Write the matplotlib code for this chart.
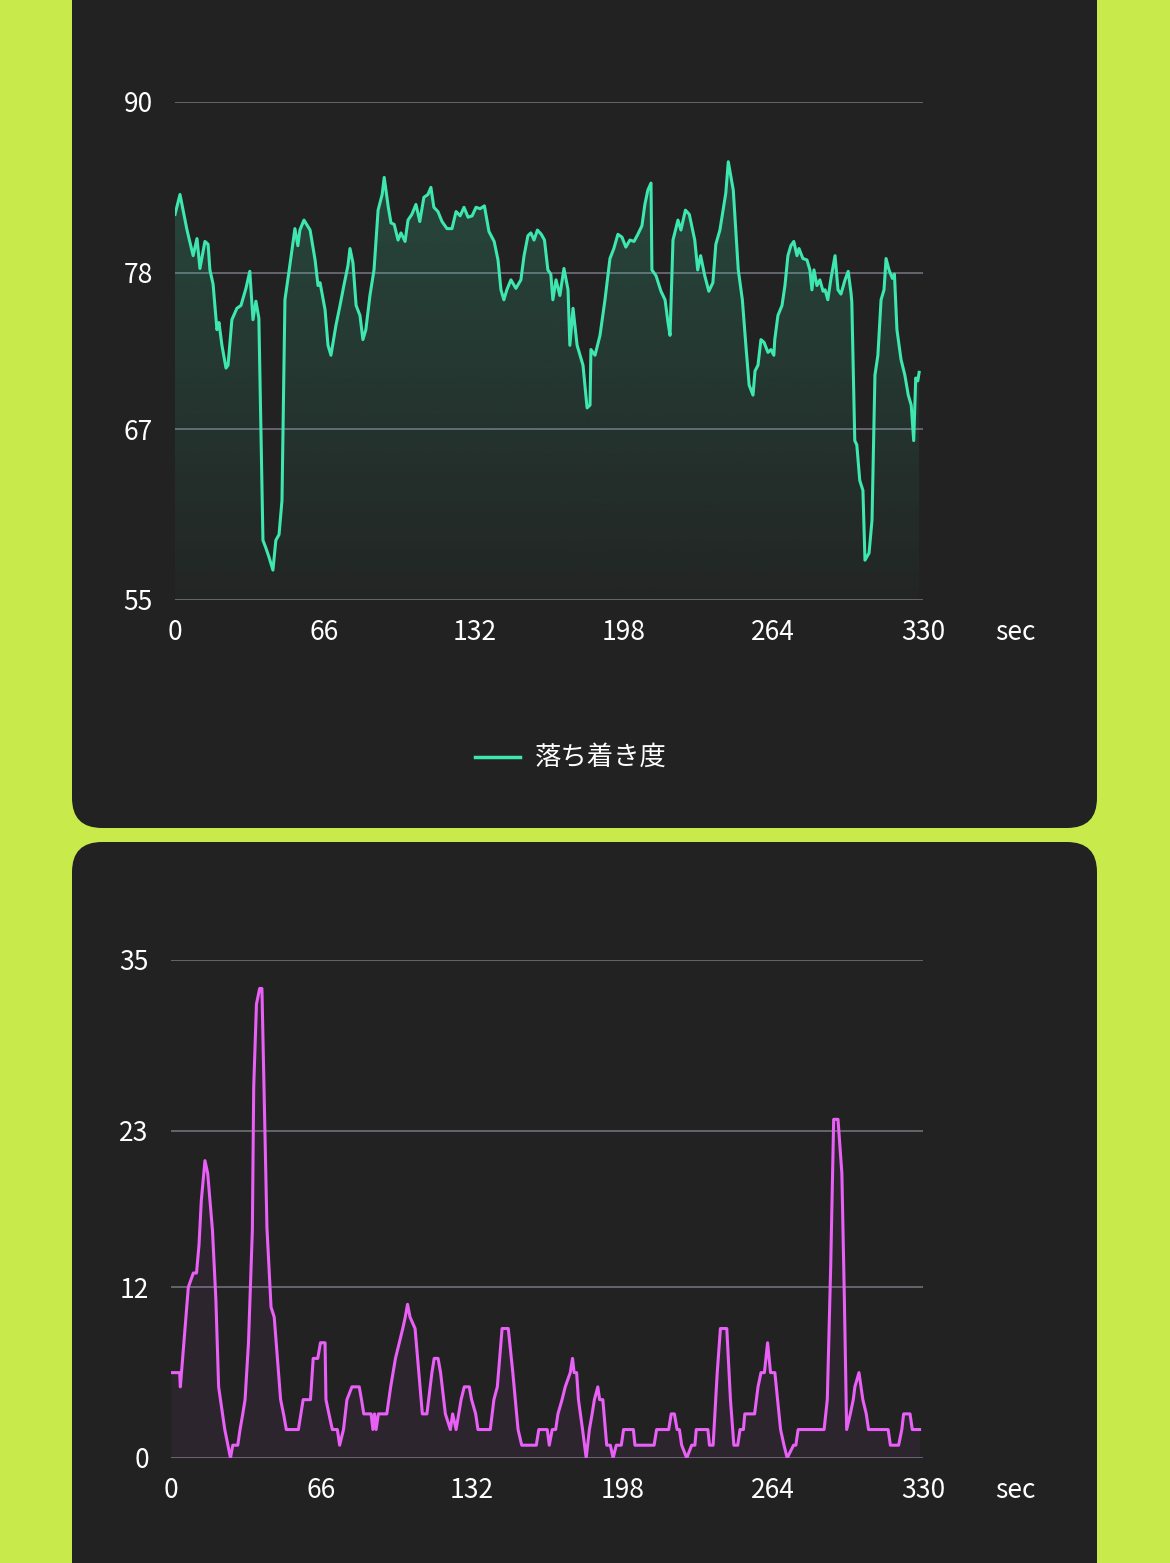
import matplotlib
matplotlib.use("Agg")
import matplotlib.pyplot as plt
import numpy as np
from matplotlib.patches import FancyBboxPatch, Polygon

plt.rcParams['font.family'] = ['Noto Sans CJK JP', 'DejaVu Sans']

calm_t = [0,2.2,5.3,8.0,9.7,11.0,13.2,14.6,15.4,16.8,18.5,19.4,20.7,22.5,23.4,25.1,27.3,29.1,31.3,33.0,34.4,35.7,37.0,38.8,40.0,41.5,43.2,44.5,45.9,47.2,48.5,50.3,52.9,54.2,55.1,56.9,59.6,61.8,63.1,64.0,66.2,67.5,68.8,71.0,72.8,74.5,76.3,77.2,78.5,79.9,81.6,82.9,84.2,86.0,87.8,89.6,91.4,92.3,94.1,95.3,96.7,98.4,99.7,101.5,102.8,104.5,106.3,108.0,109.8,111.6,112.9,114.2,116.0,117.8,120.0,122.2,124.0,125.8,127.5,129.3,131.1,132.8,134.6,136.5,138.5,140.8,142.5,143.8,145.1,146.4,148.2,150.4,152.6,154.0,155.7,157.0,158.4,159.9,161.6,163.0,164.5,165.8,166.7,168.1,169.8,171.6,173.4,174.2,175.6,177.4,180.0,181.8,183.1,183.5,185.3,187.5,189.7,191.9,193.6,195.4,197.2,198.9,200.7,202.5,204.2,206.0,207.3,208.6,210.0,210.4,212.2,214.4,216.2,217.5,218.4,219.7,221.9,223.2,225.2,226.9,229.3,230.6,231.9,233.7,235.5,237.3,238.6,240.4,243.0,244.1,246.3,248.5,250.3,252.0,253.3,255.0,255.9,257.2,258.5,259.9,261.6,262.9,264.2,264.6,266.0,267.8,269.1,270.4,271.7,273.0,274.4,275.3,277.0,278.8,280.1,281.0,281.9,283.2,284.5,285.9,286.8,288.0,289.4,291.2,292.5,293.8,295.6,297.0,298.3,298.6,299.9,300.8,302.1,303.5,304.4,306.2,307.5,308.8,310.1,311.5,312.8,313.7,315.0,316.5,317.4,318.5,320.3,322.0,323.5,324.8,325.9,326.8,327.7,328.3]
calm_v = [82.1,83.5,81.0,79.2,80.4,78.3,80.2,80.0,78.2,77.2,74.0,74.5,72.9,71.3,71.5,74.7,75.5,75.7,76.9,78.1,74.7,76.0,74.8,59.2,58.7,58.0,57.1,59.2,59.6,62.0,76.1,78.1,81.1,79.9,81.0,81.7,81.0,78.9,77.1,77.3,75.4,72.9,72.2,74.3,75.7,77.1,78.5,79.7,78.7,75.7,75.0,73.3,74.0,76.4,78.2,82.4,83.5,84.7,82.6,81.5,81.4,80.3,80.8,80.2,81.7,82.1,82.8,81.6,83.3,83.5,84.0,82.6,82.3,81.6,81.1,81.1,82.3,82.0,82.6,81.9,82.0,82.6,82.5,82.7,80.9,80.2,78.9,76.8,76.1,76.8,77.5,76.9,77.5,79.2,80.6,80.8,80.3,81.0,80.7,80.3,78.2,77.9,76.1,77.5,76.4,78.3,76.8,72.9,75.5,72.9,71.5,68.5,68.7,72.6,72.2,73.6,76.1,79.0,79.7,80.7,80.5,79.8,80.3,80.2,80.7,81.3,82.8,83.8,84.3,78.2,77.8,76.7,76.1,74.5,73.6,80.3,81.7,81.0,82.4,82.1,80.3,78.2,79.2,77.8,76.7,77.3,80.0,81.0,83.6,85.8,83.8,78.2,76.1,72.6,70.1,69.4,71.1,71.5,73.3,73.1,72.4,72.6,72.2,73.3,75.0,75.7,77.1,79.2,79.9,80.2,79.2,79.7,79.0,78.9,78.2,76.8,78.2,77.1,77.5,76.7,76.8,76.1,77.6,79.2,76.8,76.5,77.5,78.1,76.5,75.9,66.2,65.9,63.4,62.7,57.8,58.3,60.6,70.8,72.2,76.1,76.8,79.0,78.2,77.6,77.9,74.0,71.9,70.8,69.4,68.7,66.2,70.6,70.4,71.0]

mot_t = [0,3.8,4.1,7.6,9.8,11.2,12.3,13.3,14.9,16.1,18.2,19.7,20.9,23.6,26.1,27.1,29.3,30.3,31.5,32.5,34.0,35.7,36.3,37.5,38.9,39.9,40.9,42.1,43.9,45.3,48.1,49.5,50.6,55.9,57.0,58.0,61.2,62.4,64.4,65.6,67.6,68.0,69.3,70.8,73.0,74.0,75.7,77.2,79.4,82.6,83.6,84.6,87.8,88.6,89.3,90.0,91.0,94.7,96.4,98.5,100.2,101.7,102.8,103.8,104.9,107.1,110.3,112.3,114.5,115.5,117.2,118.3,120.4,122.6,123.6,125.1,127.3,128.7,130.9,131.9,133.7,134.7,140.1,141.7,143.2,145.3,148.0,150.0,152.3,153.9,160.3,161.4,165.1,166.0,167.3,168.8,169.8,171.6,173.0,175.2,176.2,176.9,178.0,178.8,180.6,182.2,183.6,184.8,185.8,187.3,188.1,189.5,191.2,192.8,194.0,195.4,197.6,198.6,202.9,203.6,212.0,213.1,218.4,219.5,220.9,222.1,223.1,224.1,226.3,228.5,229.9,230.5,235.6,236.3,237.9,239.7,241.1,243.9,245.5,247.0,248.7,249.7,251.2,251.8,256.1,257.6,258.9,260.4,261.8,263.1,265.0,267.5,269.0,270.4,273.2,274.2,275.2,286.6,288.0,289.5,290.8,292.7,294.4,295.5,296.5,298.1,299.4,300.1,301.9,303.6,305.1,306.1,314.7,315.7,319.3,320.7,321.5,324.3,325.3,328.5]
mot_v = [6,6,5,12,13,13,15,18.1,20.9,20,16,11.1,5,2,0,0.9,0.9,2,3.1,4.1,8.1,16,26.1,31.9,33,33,25.3,16.2,10.6,9.9,4.1,3,2,2,3.1,4.1,4.1,7,7,8.1,8.1,4.1,3.1,2,2,0.9,2,4.1,5,5,4.1,3.1,3.1,2,3.1,2,3.1,3.1,5,7,8.1,9.1,9.9,10.8,9.9,9.1,3.1,3.1,6,7,7,6,3.1,2,3.1,2,4.1,5,5,4.1,3.1,2,2,4.1,5,9.1,9.1,6,2,0.9,0.9,2,2,0.9,2,2,3.1,4.1,5,6,7,6,6,4.1,2,0,2,3.1,4.1,5,4.1,4.1,0.9,0.9,0,0.9,0.9,2,2,0.9,0.9,2,2,3.1,3.1,2,2,0.9,0,0.9,0.9,2,2,0.9,0.9,6,9.1,9.1,4.1,0.9,0.9,2,2,3.1,3.1,5,6,6,8.1,6,6,2,0.9,0,0.9,0.9,2,2,4.1,13.5,23.8,23.8,20,11.1,2,3.1,4.1,5,6,4.1,3.1,2,2,0.9,0.9,2,3.1,3.1,2,2]

calm_ticks = [55, 67, 78, 90]
mot_ticks = [0, 12, 23, 35]
x_ticks = [0, 66, 132, 198, 264, 330]
legend_label = "落ち着き度"

W, H = 1170, 1563
fig = plt.figure(figsize=(W/100, H/100), dpi=100)
fig.patch.set_facecolor('#c9ea4b')
PANEL = '#222222'
for (x0, y0, x1, y1) in [(72, -40, 1097, 828), (72, 842, 1097, 1620)]:
    p = FancyBboxPatch((x0/100, (H-y1)/100), (x1-x0)/100, (y1-y0)/100,
                       boxstyle="round,pad=0,rounding_size=0.3",
                       transform=fig.dpi_scale_trans, facecolor=PANEL, edgecolor='none', zorder=0)
    fig.add_artist(p)

def style(ax, yt, ylim):
    ax.set_facecolor('none')
    ax.set_xlim(0, 330)
    ax.set_ylim(*ylim)
    ax.set_yticks(yt)
    ax.set_xticks(x_ticks)
    for s in ax.spines.values():
        s.set_visible(False)
    ax.tick_params(length=0, colors='white', labelsize=19)
    ax.tick_params(axis='y', pad=16)
    ax.tick_params(axis='x', pad=14)
    ax.grid(axis='y', color='#6a6a72', linewidth=1.3)
    ax.set_axisbelow(True)

ax1 = fig.add_axes([175/W, 1-600/H, 748/W, 498/H])
style(ax1, calm_ticks, (55, 90))
grad = np.linspace(0.22, 0.02, 256).reshape(-1, 1)
cmap = matplotlib.colors.LinearSegmentedColormap.from_list('g', [(0.24,0.9,0.69,0),(0.24,0.9,0.69,1)])
im = ax1.imshow(grad, extent=[0, 330, 55, 90], aspect='auto', cmap=cmap, vmin=0, vmax=1, zorder=1, origin='upper')
poly = Polygon(list(zip(calm_t, calm_v)) + [(calm_t[-1], 55), (0, 55)], closed=True, transform=ax1.transData, facecolor='none', edgecolor='none')
ax1.add_patch(poly)
im.set_clip_path(poly)
ax1.plot(calm_t, calm_v, color='#3ee6b0', linewidth=2.2, zorder=3)
fig.text(995/W, 1-632/H, 'sec', color='white', fontsize=19, va='center', ha='left')
fig.add_artist(matplotlib.lines.Line2D([475/W, 520/W], [1-757/H]*2, color='#3ee6b0', linewidth=2.5))
fig.text(535/W, 1-757/H, legend_label, color='white', fontsize=19, va='center', ha='left')

ax2 = fig.add_axes([171/W, 1-1458/H, 752/W, 498/H])
style(ax2, mot_ticks, (0, 35))
ax2.fill_between(mot_t, mot_v, 0, color='#e860f5', alpha=0.06, linewidth=0, zorder=1)
ax2.plot(mot_t, mot_v, color='#e860f5', linewidth=2.2, zorder=3)
fig.text(995/W, 1-1490/H, 'sec', color='white', fontsize=19, va='center', ha='left')

fig.savefig('out.png', dpi=100, facecolor=fig.get_facecolor())
